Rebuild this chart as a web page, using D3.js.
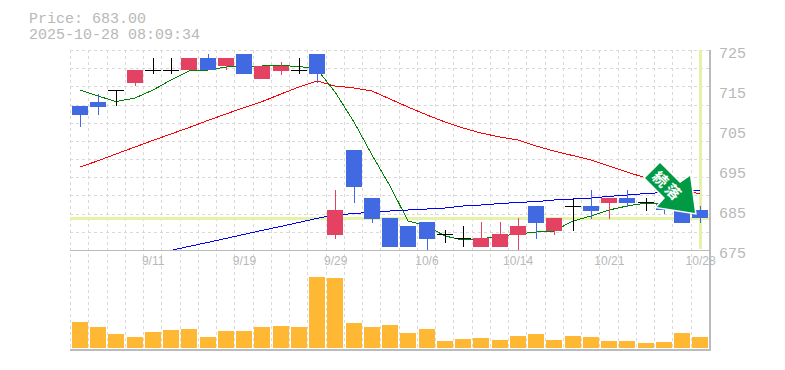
<!DOCTYPE html>
<html>
<head>
<meta charset="utf-8">
<script src="https://cdn.jsdelivr.net/npm/d3@7"></script>
<style>
  html, body { margin: 0; padding: 0; background: #fff; }
  svg { display: block; }
  text { fill: #b8b8b8; }
  .mono { font-family: "Liberation Mono", monospace; font-size: 15px; }
  .xlab { font-family: "Liberation Sans", sans-serif; font-size: 12px; }
</style>
</head>
<body>
<svg width="785" height="370"></svg>
<script>
const dates = ["9/5","9/8","9/9","9/10","9/11","9/12","9/16","9/17","9/18","9/19","9/22","9/24","9/25","9/26","9/29","9/30","10/1","10/2","10/3","10/6","10/7","10/8","10/9","10/10","10/14","10/15","10/16","10/17","10/20","10/21","10/22","10/23","10/24","10/27","10/28"];
const opens  = [711,712,715,716.75,720,720,720,723,721,724,717.75,719.75,720,724,678.75,700,688,683,681,682,679,678,675.75,675.75,678.75,686,679.75,686,686,686.75,688,687,686.5,685,685];
const highs  = [711,714,715,720,723,723,723,724,723,724,721,722,723,724,690,700,688,683,681,682,680,681,682,682,683,686,683,688,690,688,690,688,687,685,686];
const lows   = [705.75,708.75,711,716,719,719,720,720,720,719,717.75,718.75,719,716.75,677.75,686.75,681.75,675.75,675.75,675,676.75,675.75,675.75,675.75,675,677.75,678.75,679.75,682.75,682.75,685.75,684.75,684,681.75,681.75];
const closes = [708.75,710.75,715,720,720,720,723,720,723,719,721,721,720,719,685,690.75,682.75,675.75,675.75,677.75,679,678,678,679,681,681.75,683,686,684.75,688,686.75,687,685,681.75,683];
const volumes = [26,21,14,11,16,18,19,11,17,17,21,22,21,71,70,25,21,23,15,19,7,9,10,8,12,14,8,12,11,7,7,5,6,15,11];
const ma5 = [715,713.5,712.1,713,715,717.5,719.75,720,720.75,721,721,721.1,720.9,720.25,714.5,707,698.75,691,682.25,681,678.5,677.5,677.75,678.5,679,679.5,679.75,682.25,683.5,685,686,686.75,686.5,686,684.75];
const ma25 = [695.75,697.3,699,700.75,702.4,704,705.6,707.4,709,710.6,712.1,714,715.75,717.25,716,715.5,714.75,712.75,710.75,708.75,707,705.5,704.25,703.25,702.5,701,699.75,698.6,697.5,696,694.5,693,691.5,690.25,689];
const ma75 = [null,null,null,null,null,674.9,675.9,676.9,677.9,678.9,679.9,680.9,681.9,682.9,683.75,684.1,684.5,684.75,685,685.25,685.5,686,686.25,686.6,686.9,687.1,687.5,687.75,688,688.4,688.75,689.1,689.4,689.6,689.9];
const priceTicks = [675,685,695,705,715,725];
const dateTicks = ["9/11","9/19","9/29","10/6","10/14","10/21","10/28"];
const titleLines = ["Price: 683.00","2025-10-28 08:09:34"];
const lastPrice = 683;
const arrowLabel = ["続","落"];

const svg = d3.select("svg");
const plotLeft = 70, plotRight = 708.75, plotTop = 50, plotMid = 250, plotBottom = 350, volBase = 348;

const x = d3.scaleBand().domain(dates).range([plotLeft, plotRight]);
const y = d3.scaleLinear().domain([675, 725]).range([plotMid, plotTop]);
const yVol = d3.scaleLinear().domain([0, 71]).range([volBase, 277]);

// candle left edge, snapped to whole pixels
function cx(d) { return Math.round(x(d) - 0.1) + 2; }

svg.append("clipPath").attr("id", "plot")
  .append("rect").attr("x", plotLeft).attr("y", plotTop).attr("width", 640).attr("height", plotMid - plotTop);

// grid
const grid = svg.append("g")
  .attr("stroke", "#d9d9d9").attr("stroke-dasharray", "3,3").attr("shape-rendering", "crispEdges");
dates.forEach(function(d) {
  grid.append("line").attr("x1", Math.round(x(d)) + 0.5).attr("x2", Math.round(x(d)) + 0.5)
    .attr("y1", plotTop).attr("y2", plotBottom);
});
d3.range(12).forEach(function(i) {
  const gy = Math.round(y(675 + i * 50 / 11)) + 0.5;
  grid.append("line").attr("x1", plotLeft).attr("x2", 710).attr("y1", gy).attr("y2", gy);
});

// current price / last bar highlight
const lastX = cx(dates[34]) + 8;
svg.append("rect").attr("x", plotLeft).attr("y", y(lastPrice) - 1).attr("width", 640).attr("height", 3).attr("fill", "#e5f2a8");
svg.append("rect").attr("x", lastX - 1).attr("y", plotTop).attr("width", 3).attr("height", 199).attr("fill", "#e5f2a8");

// frame
const frame = svg.append("g").attr("stroke", "#bbb").attr("shape-rendering", "crispEdges");
frame.append("line").attr("x1", plotLeft).attr("x2", 711).attr("y1", plotMid + 0.5).attr("y2", plotMid + 0.5);
frame.append("line").attr("x1", plotLeft).attr("x2", 711).attr("y1", plotBottom).attr("y2", plotBottom).attr("stroke-width", 2);
frame.append("line").attr("x1", 710).attr("x2", 710).attr("y1", plotTop).attr("y2", plotBottom).attr("stroke-width", 2);

// moving averages
const line = d3.line()
  .defined(function(d) { return d.v !== null; })
  .x(function(d) { return cx(d.date) + 8; })
  .y(function(d) { return y(d.v); });
[[ma75, "#0000ff"], [ma25, "#ff0000"], [ma5, "#008000"]].forEach(function(s) {
  svg.append("path")
    .datum(dates.map(function(d, i) { return {date: d, v: s[0][i]}; }))
    .attr("clip-path", "url(#plot)")
    .attr("fill", "none")
    .attr("stroke", s[1])
    .attr("shape-rendering", "crispEdges")
    .attr("d", line);
});

// candles
const candles = svg.append("g").attr("shape-rendering", "crispEdges");
dates.forEach(function(d, i) {
  const o = opens[i], c = closes[i];
  const color = o === c ? "#000" : (c > o ? "#e34262" : "#4169e1");
  candles.append("line")
    .attr("x1", cx(d) + 8.5).attr("x2", cx(d) + 8.5)
    .attr("y1", y(highs[i])).attr("y2", y(lows[i]))
    .attr("stroke", color);
  if (o === c) {
    candles.append("line")
      .attr("x1", cx(d)).attr("x2", cx(d) + 16)
      .attr("y1", Math.round(y(c)) + 0.5).attr("y2", Math.round(y(c)) + 0.5)
      .attr("stroke", color);
  } else {
    candles.append("rect")
      .attr("x", cx(d))
      .attr("y", y(Math.max(o, c)))
      .attr("width", 16)
      .attr("height", Math.abs(y(o) - y(c)))
      .attr("fill", color);
  }
});

// volume
svg.append("g").selectAll("rect").data(volumes).join("rect")
  .attr("x", function(d, i) { return cx(dates[i]); })
  .attr("y", function(d) { return yVol(d); })
  .attr("width", 16)
  .attr("height", function(d) { return volBase - yVol(d); })
  .attr("fill", "#ffb833")
  .attr("shape-rendering", "crispEdges");

// trend arrow, tip placed just off the last bar
const tipX = lastX - 5, tipY = y(lastPrice) - 5;
const arrow = svg.append("g").attr("transform", "translate(" + tipX + "," + tipY + ")");
arrow.append("path")
  .attr("d", "M-35,-50 L-15,-30 L-5,-37 L0,0 L-38,-6 L-30,-15 L-50,-35 Z")
  .attr("fill", "#009944")
  .attr("stroke", "#fff")
  .attr("stroke-width", 3)
  .attr("paint-order", "stroke");
arrowLabel.forEach(function(t, i) {
  arrow.append("text")
    .attr("transform", "translate(" + (-34.5 + i * 12.5) + "," + (-34 + i * 12.5) + ") rotate(45)")
    .attr("text-anchor", "middle")
    .attr("dy", "0.38em")
    .attr("font-family", '"Noto Sans CJK JP", sans-serif')
    .attr("font-weight", "bold")
    .attr("font-size", 15)
    .style("fill", "#fff")
    .text(t);
});

// axes
const yAxis = d3.axisRight(y).tickValues(priceTicks).tickSize(0).tickPadding(0);
svg.append("g")
  .attr("transform", "translate(719,3)")
  .call(yAxis)
  .call(function(g) { g.select(".domain").remove(); })
  .selectAll("text")
  .attr("class", "mono")
  .attr("fill", null);

const xAxis = d3.axisBottom(x).tickValues(dateTicks).tickSize(0).tickPadding(0);
svg.append("g")
  .attr("transform", "translate(1,256)")
  .call(xAxis)
  .call(function(g) { g.select(".domain").remove(); })
  .selectAll("text")
  .attr("class", "xlab")
  .attr("fill", null);

// title
svg.selectAll(".title").data(titleLines).join("text")
  .attr("class", "mono title")
  .attr("x", 29)
  .attr("y", function(d, i) { return 23 + i * 15.5; })
  .text(function(d) { return d; });
</script>
</body>
</html>
